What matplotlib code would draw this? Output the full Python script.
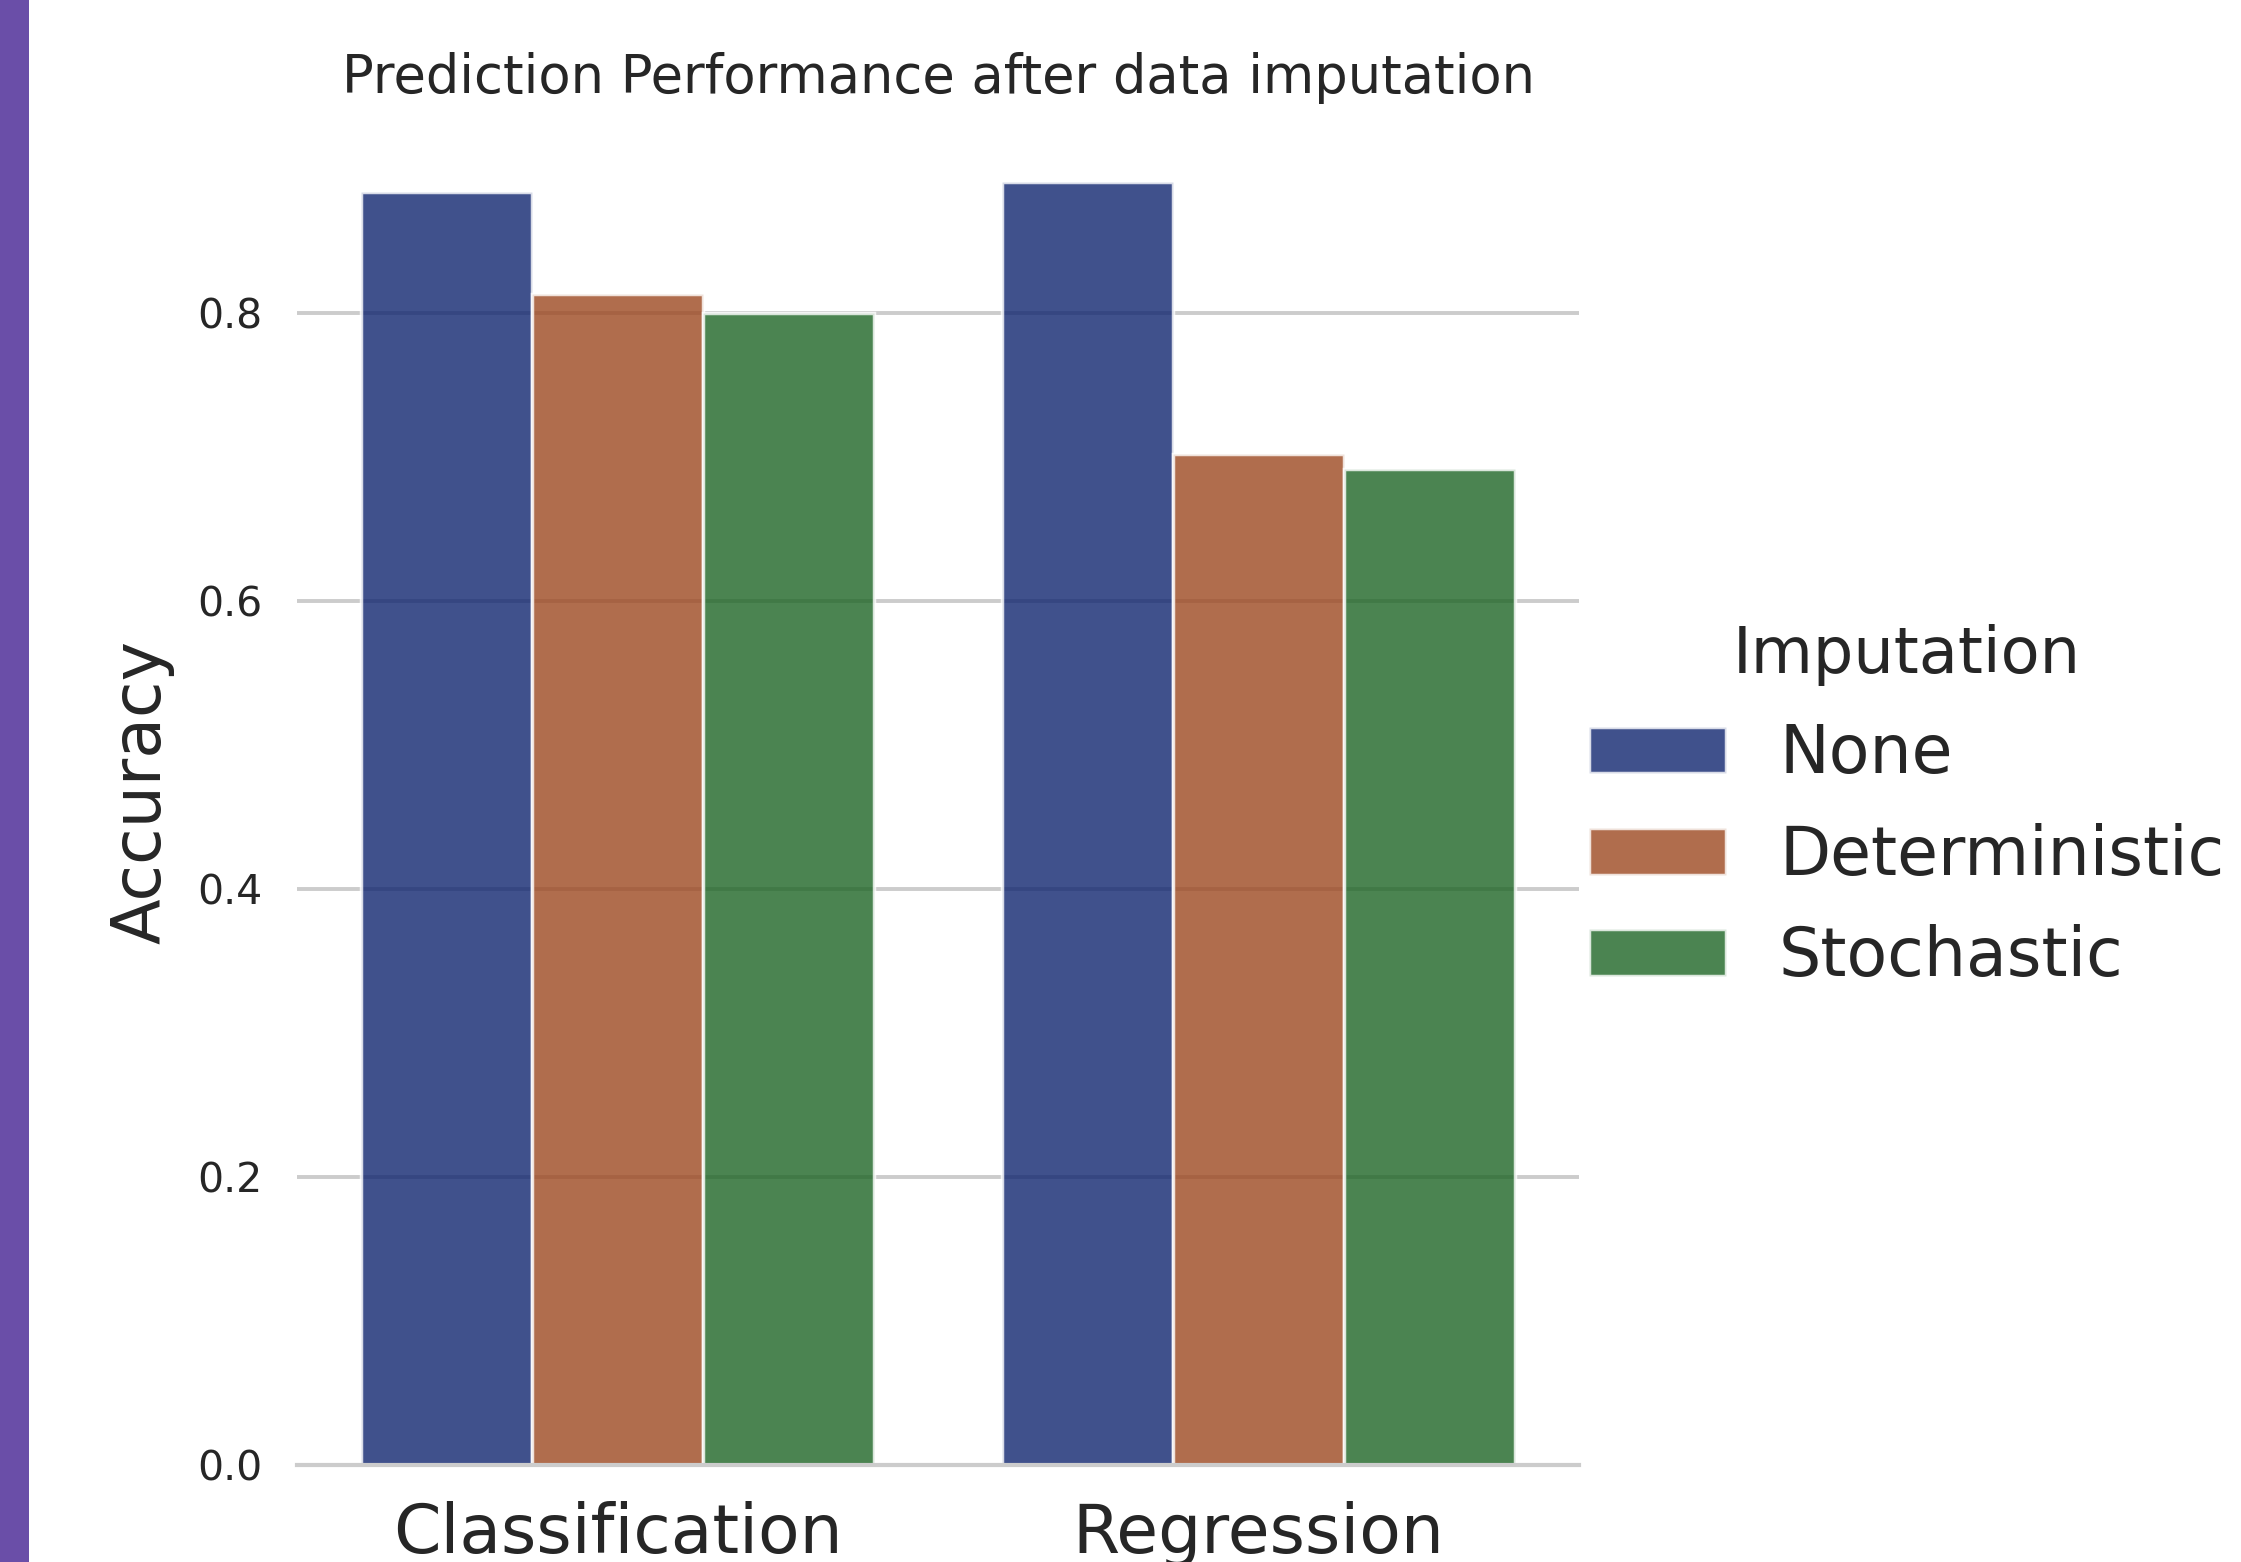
import pandas as pd
import seaborn as sns
import matplotlib.pyplot as plt
from matplotlib.patches import Rectangle

tasks = ["Classification", "Regression"]
methods = ["None", "Deterministic", "Stochastic"]
acc_none = [0.884, 0.891]
acc_deterministic = [0.813, 0.702]
acc_stochastic = [0.800, 0.692]

df = pd.DataFrame({
    "Task": tasks * 3,
    "Imputation": [m for m in methods for _ in tasks],
    "Accuracy": acc_none + acc_deterministic + acc_stochastic,
})

sns.set_theme(style="whitegrid")
plt.rcParams["font.family"] = ["DejaVu Sans"]

W, H = 2241, 1562
fig = plt.figure(figsize=(W / 100, H / 100), dpi=100)
ax = fig.add_axes([297 / W, 97 / H, 1282 / W, 1347 / H])

sns.barplot(data=df, x="Task", y="Accuracy", hue="Imputation",
            order=tasks, hue_order=methods, palette="dark", alpha=0.8,
            errorbar=None, linewidth=2.5, edgecolor="white", ax=ax)
if ax.get_legend() is not None:
    ax.get_legend().remove()

ax.xaxis.grid(False)
ax.yaxis.grid(True, color="#cccccc", linewidth=2.8)
ax.set_axisbelow(True)
for side in ["left", "top", "right"]:
    ax.spines[side].set_visible(False)
ax.spines["bottom"].set_color("#cccccc")
ax.spines["bottom"].set_linewidth(3)

ax.set_xlim(-0.5, 1.5)
ax.set_xlabel("")
ax.set_ylabel("Accuracy", fontsize=48, labelpad=16, color=".15")
ax.tick_params(axis="y", labelsize=29.5, pad=25, length=0, colors=".15")
ax.tick_params(axis="x", labelsize=49, pad=26, length=0, colors=".15")
ax.set_title("Prediction Performance after data imputation",
             fontsize=38, pad=18, color=".15")

ax.legend(ax.containers, methods, title="Imputation", fontsize=48,
          title_fontsize=46, frameon=False, loc="upper left",
          bbox_to_anchor=(1589 / W, 1 - 624 / H), bbox_transform=fig.transFigure,
          borderaxespad=0, borderpad=0, handlelength=2.05, handleheight=0.7,
          handletextpad=0.8, labelspacing=0.53)

# purple strip on the left edge
fig.add_artist(Rectangle((0, 0), 29 / W, 1, transform=fig.transFigure,
                         color="#6a4ea8", linewidth=0))

fig.savefig("out.png", dpi=100)
